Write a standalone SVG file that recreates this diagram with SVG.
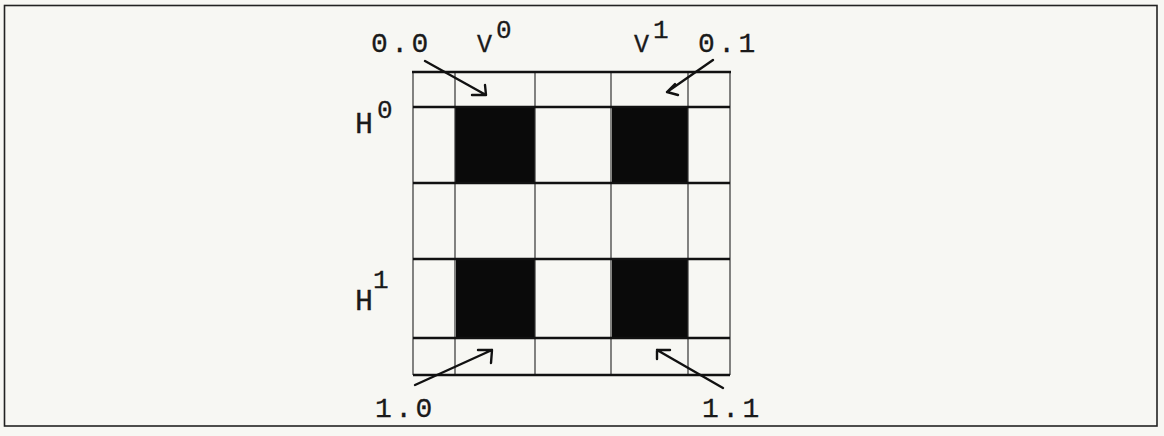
<svg xmlns="http://www.w3.org/2000/svg" width="1164" height="436" viewBox="0 0 1164 436">
<style>
.t{font-family:"Liberation Mono",monospace;fill:#1a1a1a;stroke:#1a1a1a;stroke-width:0.3}
.d{font-size:28px;letter-spacing:3.5px}
.s{font-size:26px}
.v{font-size:25px}
.h{font-size:30px}
.thick{stroke:#111;stroke-width:2.6;fill:none}
.thin{stroke:#333;stroke-width:1.2;fill:none}
.cell{fill:#0a0a0a}
.arr{stroke:#111;stroke-width:2.4;fill:none;stroke-linecap:round;stroke-linejoin:round}
</style>
<rect x="0" y="0" width="1164" height="436" fill="#f7f7f3"/>
<rect x="4.5" y="5.5" width="1152.5" height="420.5" fill="none" stroke="#222" stroke-width="1.6"/>
<g id="grid">
  <g id="cells">
    <rect class="cell" x="455" y="107" width="80" height="76"/>
    <rect class="cell" x="612" y="107" width="76" height="76"/>
    <rect class="cell" x="456" y="259" width="79" height="79"/>
    <rect class="cell" x="612" y="259" width="76" height="79"/>
  </g>
  <g id="verticals">
    <line class="thin" x1="413" y1="72" x2="413" y2="375"/>
    <line class="thin" x1="730" y1="72" x2="730" y2="375"/>
    <line class="thin" x1="455" y1="72" x2="455" y2="375"/>
    <line class="thin" x1="535" y1="72" x2="535" y2="375"/>
    <line class="thin" x1="611" y1="72" x2="611" y2="375"/>
    <line class="thin" x1="688" y1="72" x2="688" y2="375"/>
  </g>
  <g id="horizontals">
    <line class="thick" x1="412" y1="72" x2="731" y2="72"/>
    <line class="thick" x1="413" y1="107" x2="730" y2="107"/>
    <line class="thick" x1="413" y1="183" x2="730" y2="183"/>
    <line class="thick" x1="413" y1="259" x2="730" y2="259"/>
    <line class="thick" x1="413" y1="338" x2="730" y2="338"/>
    <line class="thick" x1="413" y1="375" x2="730" y2="375"/>
  </g>
</g>
<g id="connectors">
  <path class="arr" d="M425 61 L486 95 M472 95 L486 95 L485 85"/>
  <path class="arr" d="M713 60 L667 92 M667 92 L678 95 M667 92 L675 84"/>
  <path class="arr" d="M415 385 L492 350 M478 350 L492 350 L491 363"/>
  <path class="arr" d="M723 388 L657 350 M657 350 L670 350 M657 350 L657 359"/>
</g>
<g id="label-00"><text class="t d" x="371" y="52">0.0</text></g>
<g id="label-01"><text class="t d" x="698" y="52">0.1</text></g>
<g id="label-10"><text class="t d" x="375" y="417">1.0</text></g>
<g id="label-11"><text class="t d" x="702" y="417">1.1</text></g>
<g id="label-V0"><text class="t v" x="477" y="52">V</text><text class="t s" x="496" y="38">0</text></g>
<g id="label-V1"><text class="t v" x="634" y="52">V</text><text class="t s" x="653" y="38">1</text></g>
<g id="label-H0"><text class="t h" x="355" y="133">H</text><text class="t s" x="377" y="118">0</text></g>
<g id="label-H1"><text class="t h" x="355" y="310">H</text><text class="t s" x="373" y="288">1</text></g>
</svg>
